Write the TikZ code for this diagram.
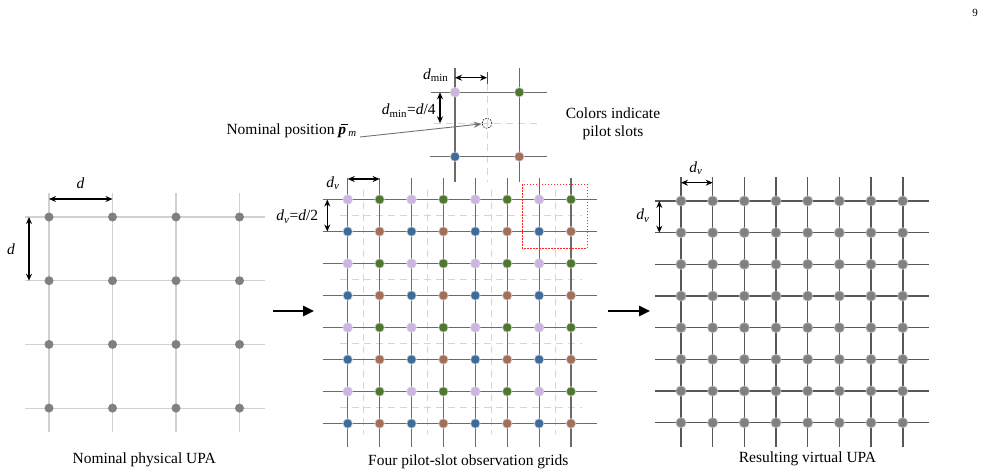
\documentclass[tikz,border=0pt]{standalone}
\usepackage{fontspec}
\setmainfont{Liberation Serif}
\usetikzlibrary{arrows.meta}
\definecolor{lilac}{HTML}{CBB5E2}
\definecolor{pgreen}{HTML}{4C7A2C}
\definecolor{pblue}{HTML}{3C6C9C}
\definecolor{pbrown}{HTML}{A46E58}
\definecolor{dotgray}{HTML}{808080}
\newcommand{\barp}{\leavevmode\vbox{\offinterlineskip\hbox{\kern2.5pt\vrule width 7pt height 0.9pt depth 0pt}\kern1.6pt\hbox{\bfseries\itshape p}}}
\begin{document}
\begin{tikzpicture}[x=1pt,y=-1pt,
  lbl/.style={font=\fontsize{15.5}{17.7}\selectfont, inner sep=0pt},
  pagenum/.style={font=\fontsize{11}{13}\selectfont, inner sep=0pt},
  lgrid/.style={draw=black!18, line width=1.2pt},
  mgrid/.style={draw=black!58, line width=1.2pt},
  rgrid/.style={draw=black!66, line width=1.6pt},
  dgrid/.style={draw=black!16, line width=1pt, dash pattern=on 7pt off 5pt},
  ldot/.style={circle, fill=dotgray, minimum size=9pt, inner sep=0pt},
  rdot/.style={circle, fill=dotgray, draw=black!30, line width=0.8pt, minimum size=10pt, inner sep=0pt},
  mdot/.style={circle, fill=#1, draw=black!18, line width=0.7pt, minimum size=9.5pt, inner sep=0pt},
  dimarrow/.style={line width=1.2pt, {Stealth[length=7pt,width=6pt]}-{Stealth[length=7pt,width=6pt]}},
  bigarrow/.style={line width=2.6pt, -{Triangle[length=11pt,width=10pt]}},
  nomarrow/.style={draw=black!55, line width=0.9pt, -{Stealth[length=8pt,width=6pt]}},
  redbox/.style={draw=red!85, line width=0.9pt, dash pattern=on 1.5pt off 1.5pt},
  nomcircle/.style={circle, draw=black, line width=0.6pt, dash pattern=on 1.5pt off 1.2pt, minimum size=10pt, inner sep=0pt}
]
\useasboundingbox (0,0) rectangle (988,476);

% ---------------- left grid: nominal physical UPA ----------------
\foreach \j in {0,...,3} {
  \draw[lgrid] (25,{217+63.7*\j}) -- (265,{217+63.7*\j});
}
\foreach \i in {0,...,3} {
  \draw[lgrid] ({49+63.5*\i},193) -- ({49+63.5*\i},432);
}
\foreach \i in {0,...,3} {
  \foreach \j in {0,...,3} {
    \node[ldot] (L-\i-\j) at ({49+63.5*\i},{217+63.7*\j}) {};
  }
}
\coordinate (lh1) at (49,199);
\coordinate (lh2) at (112.5,199);
\draw[dimarrow] (lh1) -- (lh2);
\node[lbl] (ldh) at (80.5,183) {\textit{d}};
\coordinate (lv1) at (29,217);
\coordinate (lv2) at (29,280.7);
\draw[dimarrow] (lv1) -- (lv2);
\node[lbl] (ldv) at (11,249) {\textit{d}};
\node[lbl] (lcap) at (144.2,459.3) {Nominal physical UPA};

% ---------------- middle grid ----------------
\foreach \k in {0,...,3} {
  \draw[dgrid] (340,{215.5+64*\k}) -- (582,{215.5+64*\k});
  \draw[dgrid] ({363.65+63.8*\k},190) -- ({363.65+63.8*\k},434);
}
\foreach \j in {0,...,7} {
  \draw[mgrid] (322.7,{199.5+32*\j}) -- (596.5,{199.5+32*\j});
}
\foreach \i in {0,...,7} {
  \draw[mgrid] ({347.7+31.9*\i},177.7) -- ({347.7+31.9*\i},447.3);
}
\foreach \i in {0,2,4,6} {
  \foreach \j in {0,2,4,6} {
    \node[mdot=lilac] (M-\i-\j) at ({347.7+31.9*\i},{199.5+32*\j}) {};
  }
}
\foreach \i in {1,3,5,7} {
  \foreach \j in {0,2,4,6} {
    \node[mdot=pgreen] (M-\i-\j) at ({347.7+31.9*\i},{199.5+32*\j}) {};
  }
}
\foreach \i in {0,2,4,6} {
  \foreach \j in {1,3,5,7} {
    \node[mdot=pblue] (M-\i-\j) at ({347.7+31.9*\i},{199.5+32*\j}) {};
  }
}
\foreach \i in {1,3,5,7} {
  \foreach \j in {1,3,5,7} {
    \node[mdot=pbrown] (M-\i-\j) at ({347.7+31.9*\i},{199.5+32*\j}) {};
  }
}
\draw[redbox] (522.3,184.3) rectangle (587.3,248.3);
\coordinate (mh1) at (347.7,179);
\coordinate (mh2) at (379.6,179);
\draw[dimarrow] (mh1) -- (mh2);
\node[lbl] (mdh) at (333,183) {\textit{d}\textsubscript{\textit{v}}};
\coordinate (mv1) at (327.3,199.5);
\coordinate (mv2) at (327.3,231.5);
\draw[dimarrow] (mv1) -- (mv2);
\node[lbl] (mdv) at (297.3,216.7) {\textit{d}\textsubscript{\textit{v}}=\textit{d}/2};
\node[lbl] (mcap) at (468.3,461.7) {Four pilot-slot observation grids};

% ---------------- inset ----------------
\draw[dgrid] (487,84) -- (487,182);
\draw[dgrid] (434,123.3) -- (542,123.3);
\draw[mgrid] (431,92.3) -- (547,92.3);
\draw[mgrid] (430,156.7) -- (547,156.7);
\draw[mgrid] (455,68) -- (455,182.3);
\draw[mgrid] (519.3,68) -- (519.3,182.3);
\node[mdot=lilac] (I-a) at (455,92.3) {};
\node[mdot=pgreen] (I-b) at (519.3,92.3) {};
\node[mdot=pblue] (I-c) at (455,156.7) {};
\node[mdot=pbrown] (I-d) at (519.3,156.7) {};
\node[nomcircle] (nom) at (487,123.3) {};
\coordinate (tk1) at (487,72);
\coordinate (tk2) at (487,84);
\draw[black!70, line width=0.8pt] (tk1) -- (tk2);
\coordinate (ih1) at (455,77.7);
\coordinate (ih2) at (487,77.7);
\draw[dimarrow] (ih1) -- (ih2);
\node[lbl] (idh) at (435.7,75.5) {\textit{d}\textsubscript{min}};
\coordinate (iv1) at (440,92.3);
\coordinate (iv2) at (440,123.3);
\draw[dimarrow] (iv1) -- (iv2);
\node[lbl] (idv) at (408.8,110.7) {\textit{d}\textsubscript{min}=\textit{d}/4};
\node[lbl, anchor=east] (nomtxt) at (357,130.5) {Nominal position \barp\kern0.5pt\textsubscript{\textit{m}}};
\draw[nomarrow] ([xshift=3pt,yshift=-6.5pt]nomtxt.east) -- (nom);
\node[lbl, align=center] (colors) at (613,124) {Colors indicate\\pilot slots};

% ---------------- right grid ----------------
\foreach \j in {0,...,7} {
  \draw[rgrid] (655,{201+31.67*\j}) -- (929.3,{201+31.67*\j});
}
\foreach \i in {0,...,7} {
  \draw[rgrid] ({681+31.67*\i},177.3) -- ({681+31.67*\i},447.3);
}
\foreach \i in {0,...,7} {
  \foreach \j in {0,...,7} {
    \node[rdot] (R-\i-\j) at ({681+31.67*\i},{201+31.67*\j}) {};
  }
}
\coordinate (rh1) at (681,182.7);
\coordinate (rh2) at (712.7,182.7);
\draw[dimarrow] (rh1) -- (rh2);
\node[lbl] (rdh) at (696,168.3) {\textit{d}\textsubscript{\textit{v}}};
\coordinate (rv1) at (659.3,201);
\coordinate (rv2) at (659.3,232.7);
\draw[dimarrow] (rv1) -- (rv2);
\node[lbl] (rdv) at (643,215.7) {\textit{d}\textsubscript{\textit{v}}};
\node[lbl] (rcap) at (807.5,458.3) {Resulting virtual UPA};

% ---------------- big arrows ----------------
\coordinate (ba1) at (273,311);
\coordinate (ba2) at (314,311);
\draw[bigarrow] (ba1) -- (ba2);
\coordinate (bb1) at (608,311);
\coordinate (bb2) at (650,311);
\draw[bigarrow] (bb1) -- (bb2);

% page number
\node[pagenum] (pg) at (975,13) {9};
\end{tikzpicture}
\end{document}
